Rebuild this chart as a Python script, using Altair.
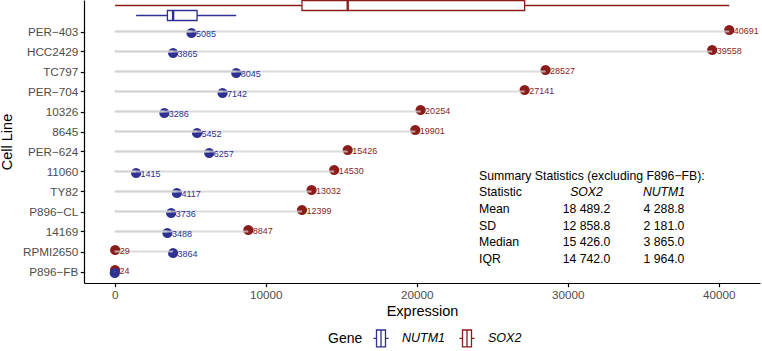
import json

import altair as alt
import pandas as pd

# ---- data -------------------------------------------------------------
cell_lines = ["PER−403", "HCC2429", "TC797", "PER−704", "10326", "8645",
              "PER−624", "11060", "TY82", "P896−CL", "14169", "RPMI2650",
              "P896−FB"]
sox2 = [40691, 39558, 28527, 27141, 20254, 19901, 15426, 14530, 13032,
        12399, 8847, 29, 24]
nutm1 = [5085, 3865, 8045, 7142, 3286, 5452, 6257, 1415, 4117, 3736,
         3488, 3864, 0]
genes = ["NUTM1", "SOX2"]
gene_colors = ["#2E3192", "#8B1C1C"]
x_ticks = [0, 10000, 20000, 30000, 40000]

table_title = "Summary Statistics (excluding F896−FB):"
stat_header = ["Statistic", "SOX2", "NUTM1"]
stat_names = ["Mean", "SD", "Median", "IQR"]
sox2_stats = ["18 489.2", "12 858.8", "15 426.0", "14 742.0"]
nutm1_stats = ["4 288.8", "2 181.0", "3 865.0", "1 964.0"]

FONT = "Liberation Sans"

# long table: one row per cell line and gene (NUTM1 drawn last)
n = len(cell_lines)
records = []
for i, name in enumerate(cell_lines):
    for gene, vals in (("SOX2", sox2), ("NUTM1", nutm1)):
        records.append({"cell": name, "row": n - i, "gene": gene,
                        "value": vals[i]})
long_df = pd.DataFrame(records)

vmax = max(max(sox2), max(nutm1))
x_scale = alt.Scale(domain=[-0.05 * vmax, 1.05 * vmax], nice=False, zero=False)
y_scale = alt.Scale(domain=[0.425, n + 1.575], nice=False, zero=False)
col_scale = alt.Scale(domain=genes, range=gene_colors)
# the legend lives on the stroke channel; its domain comes from the data
stroke_scale = alt.Scale(range=gene_colors)

bottom_up = list(reversed(cell_lines))
y_label_expr = json.dumps(bottom_up, ensure_ascii=False) + "[datum.value - 1]"

x_axis = alt.Axis(values=x_ticks, format="d", title="Expression", grid=False)
y_axis = alt.Axis(values=list(range(1, n + 1)), labelExpr=y_label_expr,
                  title="Cell Line", grid=False)

X = alt.X("value:Q", scale=x_scale, axis=x_axis)
color = alt.Color("gene:N", scale=col_scale, legend=None)

base = alt.Chart(long_df).transform_calculate(
    ypos="datum.row + (datum.gene == 'SOX2' ? 0.075 : -0.075)",
    zero="0",
)

points = base.mark_circle(size=105, opacity=1).encode(
    x=X,
    y=alt.Y("ypos:Q", scale=y_scale, axis=y_axis),
    color=color,
)

segments = base.mark_rule(color="#D0D0D0", strokeWidth=2, opacity=0.75).encode(
    x=alt.X("zero:Q", scale=x_scale, axis=x_axis),
    x2="value:Q",
    y=alt.Y("row:Q", scale=y_scale, axis=y_axis),
)

# zero expression is left unlabelled
labels = base.transform_filter("datum.value > 0").mark_text(
    align="left", baseline="middle", dx=4.5, dy=0.5, fontSize=9, font=FONT
).encode(
    x=X,
    y=alt.Y("ypos:Q", scale=y_scale, axis=y_axis),
    text=alt.Text("value:Q", format="d"),
    color=color,
)

# ---- box plots above the rows -----------------------------------------
box_pos = f"datum.gene == 'SOX2' ? {n + 1.3} : {n + 0.8}"

whisker = alt.Chart(long_df).transform_joinaggregate(
    q1="q1(value)", q3="q3(value)", groupby=["gene"]
).transform_filter(
    "datum.value >= datum.q1 - 1.5 * (datum.q3 - datum.q1) && "
    "datum.value <= datum.q3 + 1.5 * (datum.q3 - datum.q1)"
).transform_aggregate(
    wmin="min(value)", wmax="max(value)", groupby=["gene"]
).transform_calculate(pos=box_pos).mark_rule(strokeWidth=1.3).encode(
    x=alt.X("wmin:Q", scale=x_scale, axis=x_axis),
    x2="wmax:Q",
    y=alt.Y("pos:Q", scale=y_scale, axis=y_axis),
    color=color,
)

box_stats = alt.Chart(long_df).transform_aggregate(
    q1="q1(value)", med="median(value)", q3="q3(value)", groupby=["gene"]
).transform_calculate(pos=box_pos).transform_calculate(
    lo="datum.pos - 0.25", hi="datum.pos + 0.25"
)

legend_symbol = ("M-0.85,0H-0.5M0.5,0H0.85M-0.5,-0.94H0.5V0.94H-0.5Z"
                 "M0,-0.94V0.94")

boxes = box_stats.mark_rect(fill="white", strokeWidth=1.3).encode(
    x=alt.X("q1:Q", scale=x_scale, axis=x_axis),
    x2="q3:Q",
    y=alt.Y("lo:Q", scale=y_scale, axis=y_axis),
    y2="hi:Q",
    stroke=alt.Stroke(
        "gene:N", scale=stroke_scale,
        legend=alt.Legend(
            title="Gene", orient="none", direction="horizontal",
            legendX=244, legendY=328, titleOrient="left",
            titleFontSize=14, titleFontWeight="normal", titleFont=FONT,
            titleColor="black", titlePadding=8, titleBaseline="middle",
            labelFontSize=12.5, labelFontStyle="italic", labelFont=FONT,
            labelColor="black", labelOffset=11, columnPadding=10,
            symbolType=legend_symbol, symbolSize=324,
            symbolFillColor="white", symbolStrokeWidth=1.3,
        ),
    ),
)

medians = box_stats.mark_rule(strokeWidth=2.4).encode(
    x=alt.X("med:Q", scale=x_scale, axis=x_axis),
    y=alt.Y("lo:Q", scale=y_scale, axis=y_axis),
    y2="hi:Q",
    color=color,
)

# ---- summary statistics table -------------------------------------------
tbl_top = 4.96      # first table line, in row units
tbl_step = 0.835
tbl_rows = [{"label": s, "a": a, "b": b, "idx": i + 1}
            for i, (s, a, b) in enumerate(zip(stat_names, sox2_stats, nutm1_stats))]
tbl_df = pd.DataFrame(tbl_rows)
head_df = pd.DataFrame({"label": [stat_header[0]], "a": [stat_header[1]],
                        "b": [stat_header[2]], "idx": [0]})
title_df = pd.DataFrame({"label": [table_title], "idx": [-1]})


def table_text(df, field, xpix, align, style="normal"):
    return alt.Chart(df).transform_calculate(
        ty=f"{tbl_top} - {tbl_step} * datum.idx"
    ).mark_text(align=align, baseline="middle", fontSize=12.25, font=FONT,
                color="black", fontStyle=style).encode(
        x=alt.value(xpix),
        y=alt.Y("ty:Q", scale=y_scale, axis=y_axis),
        text=f"{field}:N",
    )


table = [
    table_text(title_df, "label", 395, "left"),
    table_text(head_df, "label", 395, "left"),
    table_text(head_df, "a", 502.5, "center", "italic"),
    table_text(head_df, "b", 580, "center", "italic"),
    table_text(tbl_df, "label", 395, "left"),
    table_text(tbl_df, "a", 502.5, "center"),
    table_text(tbl_df, "b", 580, "center"),
]

chart = alt.layer(
    points, segments, labels, whisker, boxes, medians, *table
).properties(
    width=676, height=283,
    autosize=alt.AutoSizeParams(type="none"),
    padding={"left": 84, "top": 0, "right": 2, "bottom": 68},
).configure_view(
    stroke=None
).configure_axis(
    domainColor="black", domainWidth=1.2, tickColor="black", tickWidth=1.2,
    tickSize=3.7, labelColor="#4D4D4D", labelFontSize=11.7, labelFont=FONT,
    labelPadding=2.5, titleFont=FONT, titleFontSize=14.5,
    titleFontWeight="normal", titleColor="black",
).configure_axisX(
    titlePadding=4
).configure_axisY(
    titlePadding=8
)

chart.save("out.html", embed_options={"renderer": "svg", "actions": False})
